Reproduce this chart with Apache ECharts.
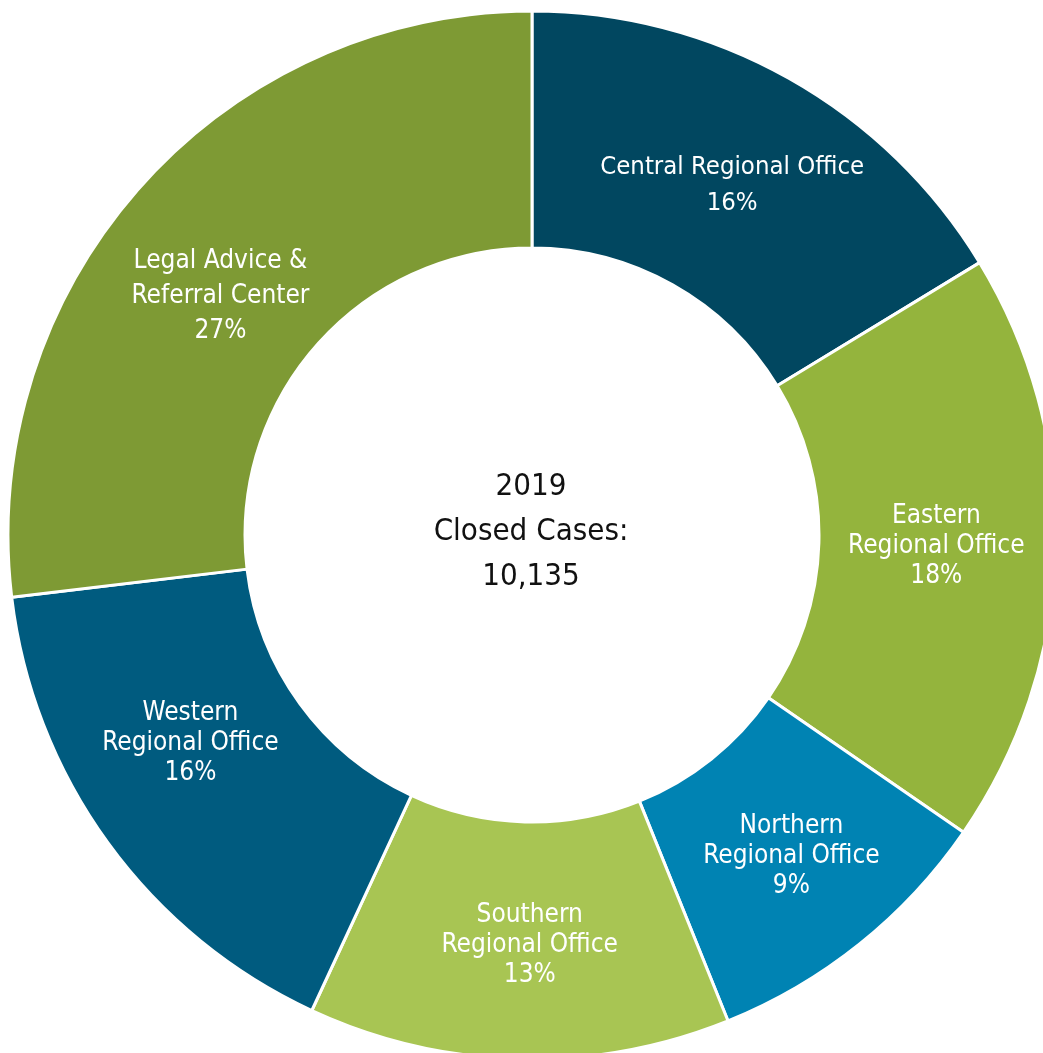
<!DOCTYPE html>
<html><head><meta charset="utf-8">
<script src="https://cdn.jsdelivr.net/npm/echarts@6/dist/echarts.min.js"></script>
<style>html,body{margin:0;padding:0;background:#fff}#c{width:1043px;height:1053px}</style>
</head><body><div id="c"></div>
<script>
const categories = ['Central Regional Office', 'Eastern\nRegional Office', 'Northern\nRegional Office', 'Southern\nRegional Office', 'Western\nRegional Office', 'Legal Advice &\nReferral Center'];
const values = [1652, 1855, 942, 1318, 1642, 2726];
const colors = ['#014760', '#94b43d', '#0083b3', '#a8c553', '#005b7f', '#7e9a34'];
const centerTitle = ['2019', 'Closed Cases:', '10,135'];

const FONT = '"Liberation Sans Narrow", "DejaVu Sans Condensed", sans-serif';
const labelTweaks = [
  { fontSize: 25.5, lineHeight: 36, offset: [0, 6] },
  { offset: [-4, 0] },
  { offset: [4, 2] },
  { offset: [8, 2] },
  { offset: [-11, -32] },
  { lineHeight: 35, offset: [-6, 32] }
];
const chart = echarts.init(document.getElementById('c'));
chart.setOption({
  backgroundColor: '#fff',
  animation: false,
  title: {
    text: centerTitle.join('\n'),
    left: 526, top: 527, textAlign: 'center', textVerticalAlign: 'middle',
    textStyle: { fontFamily: FONT, fontSize: 31, fontWeight: 'normal', color: '#111', lineHeight: 45 }
  },
  series: [{
    type: 'pie',
    center: [532, 535],
    radius: [287, 524],
    startAngle: 90,
    clockwise: true,
    avoidLabelOverlap: false,
    itemStyle: { borderColor: '#fff', borderWidth: 3 },
    label: {
      show: true, position: 'inside',
      fontFamily: FONT, fontSize: 26, color: '#fff', lineHeight: 30,
      formatter: p => p.name + '\n' + Math.round(p.percent) + '%'
    },
    labelLine: { show: false },
    emphasis: { disabled: true },
    data: categories.map((n, i) => ({ name: n, value: values[i], itemStyle: { color: colors[i] }, label: labelTweaks[i] }))
  }]
});
</script></body></html>
